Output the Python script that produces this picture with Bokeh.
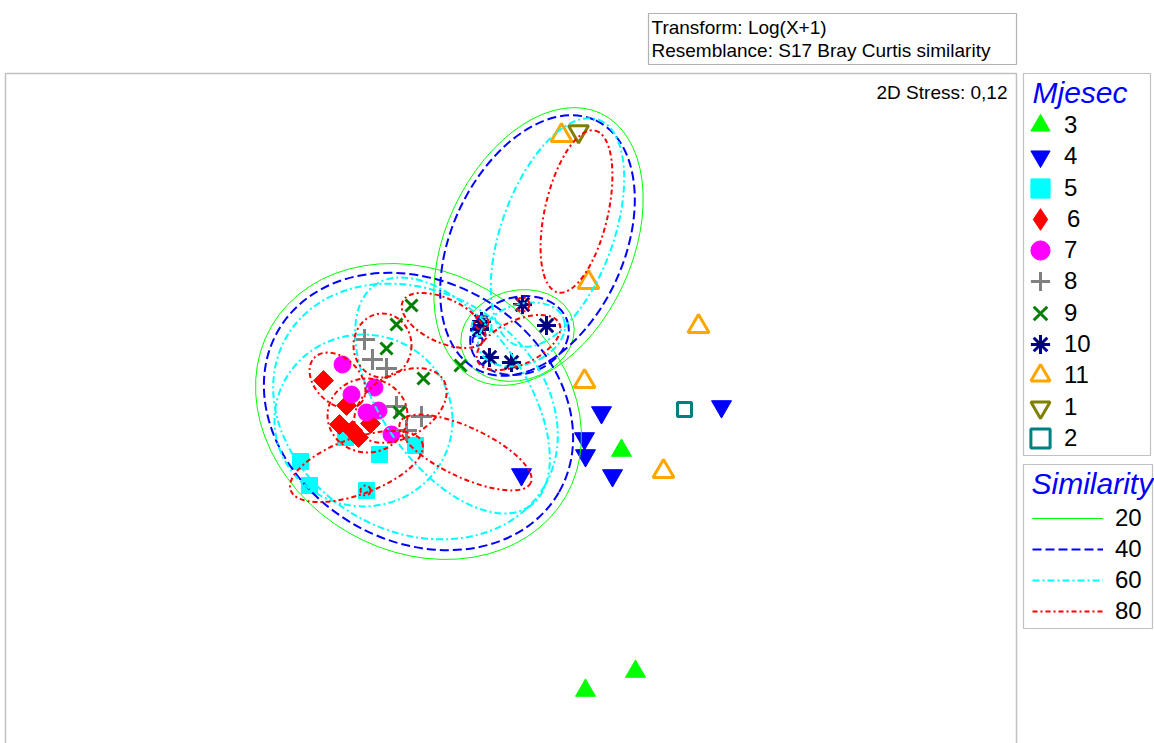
from bokeh.plotting import figure
from bokeh.models import Range1d, BoxAnnotation, Label, Legend, LegendItem
from bokeh.embed import file_html
from bokeh.resources import INLINE

NAN = float("nan")

# ---------------- data (nMDS coordinates, arbitrary units) ----------------
m3_x = [1.11, 1.25, 0.75]
m3_y = [-0.40, -2.61, -2.80]
m4_x = [0.91, 0.74, 0.75, 1.02, 2.11, 0.11]
m4_y = [-0.02, -0.28, -0.45, -0.65, 0.04, -0.64]
m5_x = [-2.10, -2.01, -1.65, -1.31, -0.95, -1.44]
m5_y = [-0.51, -0.75, -0.27, -0.44, -0.35, -0.80]
m6_x = [-1.87, -1.64, -1.71, -1.58, -1.52, -1.40]
m6_y = [0.30, 0.05, -0.14, -0.20, -0.27, -0.13]
m7_x = [-1.68, -1.59, -1.36, -1.44, -1.32, -1.19]
m7_y = [0.46, 0.16, 0.23, -0.02, 0.00, -0.24]
m8_x = [-1.46, -1.38, -1.24, -1.14, -0.89, -1.04]
m8_y = [0.71, 0.51, 0.42, 0.04, -0.06, -0.20]
m9_x = [-0.99, -1.14, -1.24, -0.87, -0.50, -1.11]
m9_y = [1.05, 0.86, 0.62, 0.32, 0.45, -0.02]
m10_x = [0.12, -0.29, -0.31, 0.36, -0.21, 0.01]
m10_y = [1.06, 0.89, 0.81, 0.85, 0.53, 0.48]
m11_x = [0.51, 0.78, 1.88, 0.74, 1.53]
m11_y = [2.75, 1.28, 0.84, 0.29, -0.61]
m1_x = [0.68]
m1_y = [2.79]
m2_x = [1.74]
m2_y = [0.01]

month_labels = ["3", "4", "5", "6", "7", "8", "9", "10", "11", "1", "2"]

# similarity contours (ellipse centre x, y, width, height, angle deg)
s20_x = [-0.92, 0.28, 0.07]
s20_y = [-0.01, 1.64, 0.75]
s20_w = [3.40, 2.94, 1.15]
s20_h = [2.80, 1.86, 0.90]
s20_a = [-30, 65, 15]

s40_x = [-0.92, 0.27, 0.09, -0.33]
s40_y = [-0.01, 1.65, 0.75, 0.70]
s40_w = [3.24, 2.76, 1.00, 0.10]
s40_h = [2.60, 1.72, 0.77, 0.10]
s40_a = [-30, 65, 15, 0]

s60_x = [-0.95, -1.47, -0.58, 0.47, 0.11, -0.29]
s60_y = [-0.01, -0.10, 0.15, 1.78, 0.76, 0.84]
s60_w = [2.98, 1.78, 2.70, 2.40, 0.90, 0.20]
s60_h = [2.40, 1.72, 1.44, 1.12, 0.60, 0.20]
s60_a = [-30, 0, -55, 70, 20, 0]

s80_x = [0.66, 0.08, 0.12, -0.29, -1.45, -0.67, -1.28, -1.73, -1.43, -1.10, -1.54, -0.45]
s80_y = [1.99, 0.68, 1.06, 0.88, -0.80, 0.90, 0.65, 0.30, -0.05, 0.05, -0.56, -0.42]
s80_w = [1.66, 0.90, 0.14, 0.14, 0.10, 0.90, 0.58, 0.65, 0.80, 1.00, 1.40, 1.44]
s80_h = [0.63, 0.44, 0.14, 0.14, 0.10, 0.44, 0.64, 0.45, 0.74, 0.64, 0.56, 0.50]
s80_a = [77, 25, 0, 0, 0, -25, 0, -45, 0, 30, 20, -25]

sim_labels = ["20", "40", "60", "80"]

# ---------------- figure ----------------
FONT = "Liberation Sans"
W, H = 1154, 743
p = figure(width=W, height=H, output_backend="svg", toolbar_location=None,
           x_range=Range1d(-5.10, 6.44), y_range=Range1d(-3.33, 4.10),
           x_axis_location=None, y_axis_location=None, title=None,
           min_border=0, outline_line_color=None)
p.grid.visible = False
p.background_fill_color = "white"
p.border_fill_color = "white"

# plot frame and text box
p.add_layout(BoxAnnotation(left=-5.05, right=5.06, top=3.37, bottom=-3.6,
                           fill_alpha=0, line_color="#333333", line_width=1.5))
p.add_layout(BoxAnnotation(left=1.38, right=5.06, top=3.97, bottom=3.46,
                           fill_alpha=0, line_color="black", line_width=1.2))
p.add_layout(Label(x=1.41, y=3.835, text="Transform: Log(X+1)", text_font=FONT,
                   text_font_size="19px", text_baseline="middle", text_color="black"))
p.add_layout(Label(x=1.41, y=3.60, text="Resemblance: S17 Bray Curtis similarity", text_font=FONT,
                   text_font_size="19px", text_baseline="middle", text_color="black"))
p.add_layout(Label(x=4.97, y=3.18, text="2D Stress: 0,12", text_font=FONT,
                   text_font_size="19px", text_baseline="middle", text_align="right",
                   text_color="black"))

# points
r3 = p.scatter(m3_x, m3_y, marker="triangle", size=20, fill_color="#00FF00", line_color="#00FF00")
r4 = p.scatter(m4_x, m4_y, marker="inverted_triangle", size=20, fill_color="#0000FF", line_color="#0000FF")
r5 = p.scatter(m5_x, m5_y, marker="square", size=16, fill_color="#00FFFF", line_color="#00FFFF")
r6 = p.scatter(m6_x, m6_y, marker="square", size=14, angle=0.785398, fill_color="#FF0000", line_color="#FF0000")
r6_leg = p.scatter([NAN], [NAN], marker="diamond", size=20, fill_color="#FF0000", line_color="#FF0000")
r7 = p.scatter(m7_x, m7_y, marker="circle", size=17, fill_color="#FF00FF", line_color="#FF00FF")
r8 = p.scatter(m8_x, m8_y, marker="cross", size=21, fill_color=None, line_color="#808080", line_width=3)
r9 = p.scatter(m9_x, m9_y, marker="x", size=17, fill_color=None, line_color="#008000", line_width=3)
r10 = p.scatter(m10_x, m10_y, marker="asterisk", size=19, fill_color=None, line_color="#000080", line_width=3)
r11 = p.scatter(m11_x, m11_y, marker="triangle", size=21, fill_color=None, line_color="#FFA500", line_width=3)
r1 = p.scatter(m1_x, m1_y, marker="inverted_triangle", size=20, fill_color=None, line_color="#808000", line_width=3)
r2 = p.scatter(m2_x, m2_y, marker="square", size=14, fill_color=None, line_color="#008080", line_width=3)

# similarity contours
p.ellipse(s20_x, s20_y, width=s20_w, height=s20_h, angle=s20_a, angle_units="deg",
          fill_color=None, line_color="#00FF00", line_width=1)
p.ellipse(s40_x, s40_y, width=s40_w, height=s40_h, angle=s40_a, angle_units="deg",
          fill_color=None, line_color="#0000FF", line_width=2, line_dash="9 4")
p.ellipse(s60_x, s60_y, width=s60_w, height=s60_h, angle=s60_a, angle_units="deg",
          fill_color=None, line_color="#00FFFF", line_width=2, line_dash="7 3 2 3")
p.ellipse(s80_x, s80_y, width=s80_w, height=s80_h, angle=s80_a, angle_units="deg",
          fill_color=None, line_color="#FF0000", line_width=2, line_dash="5 3 2 3")

# legend-only line glyphs (no visible data)
l20 = p.line([NAN, NAN], [NAN, NAN], line_color="#00FF00", line_width=1)
l40 = p.line([NAN, NAN], [NAN, NAN], line_color="#0000FF", line_width=2, line_dash="9 4")
l60 = p.line([NAN, NAN], [NAN, NAN], line_color="#00FFFF", line_width=2, line_dash="7 3 2 3")
l80 = p.line([NAN, NAN], [NAN, NAN], line_color="#FF0000", line_width=2, line_dash="5 3 2 3")

# legend 1 : Mjesec (one entry per legend so that markers can be large)
p.add_layout(BoxAnnotation(left=5.13, right=6.40, top=3.37, bottom=-0.45,
                           fill_alpha=0, line_color="#333333", line_width=1.2))
p.add_layout(Label(x=5.22, y=3.18, text="Mjesec", text_font=FONT, text_font_size="30px",
                   text_font_style="italic", text_color="#0000FF", text_baseline="middle"))
month_renderers = [r3, r4, r5, r6_leg, r7, r8, r9, r10, r11, r1, r2]
for i, (lab, rr) in enumerate(zip(month_labels, month_renderers)):
    g = 54 if lab == "6" else 48
    yc = 125 + i * 31.3  # item centre, px from top
    xc = 1040            # glyph centre, px from left
    leg = Legend(items=[LegendItem(label=lab, renderers=[rr])],
                 location=(int(xc - g / 2), int(round(H - (yc + g / 2)))), orientation="vertical",
                 glyph_width=g, glyph_height=g, spacing=0, padding=0, margin=0,
                 label_standoff=int(1058 - (xc + g / 2)), label_height=20, label_width=30,
                 label_text_font=FONT, label_text_font_size="24px", label_text_color="black",
                 background_fill_alpha=0, border_line_alpha=0)
    p.add_layout(leg)

# legend 2 : Similarity
p.add_layout(BoxAnnotation(left=5.13, right=6.42, top=-0.54, bottom=-2.18,
                           fill_alpha=0, line_color="#333333", line_width=1.2))
p.add_layout(Label(x=5.21, y=-0.73, text="Similarity", text_font=FONT, text_font_size="30px",
                   text_font_style="italic", text_color="#0000FF", text_baseline="middle"))
leg2 = Legend(items=[LegendItem(label=lab, renderers=[rr]) for lab, rr in zip(sim_labels, [l20, l40, l60, l80])],
              location=(1032, 118), orientation="vertical",
              glyph_width=71, glyph_height=28, spacing=3, padding=0, margin=0,
              label_standoff=12, label_height=20, label_width=26,
              label_text_font=FONT, label_text_font_size="24px", label_text_color="black",
              background_fill_alpha=0, border_line_alpha=0)
p.add_layout(leg2)

open("out.html", "w").write(file_html(p, INLINE))
